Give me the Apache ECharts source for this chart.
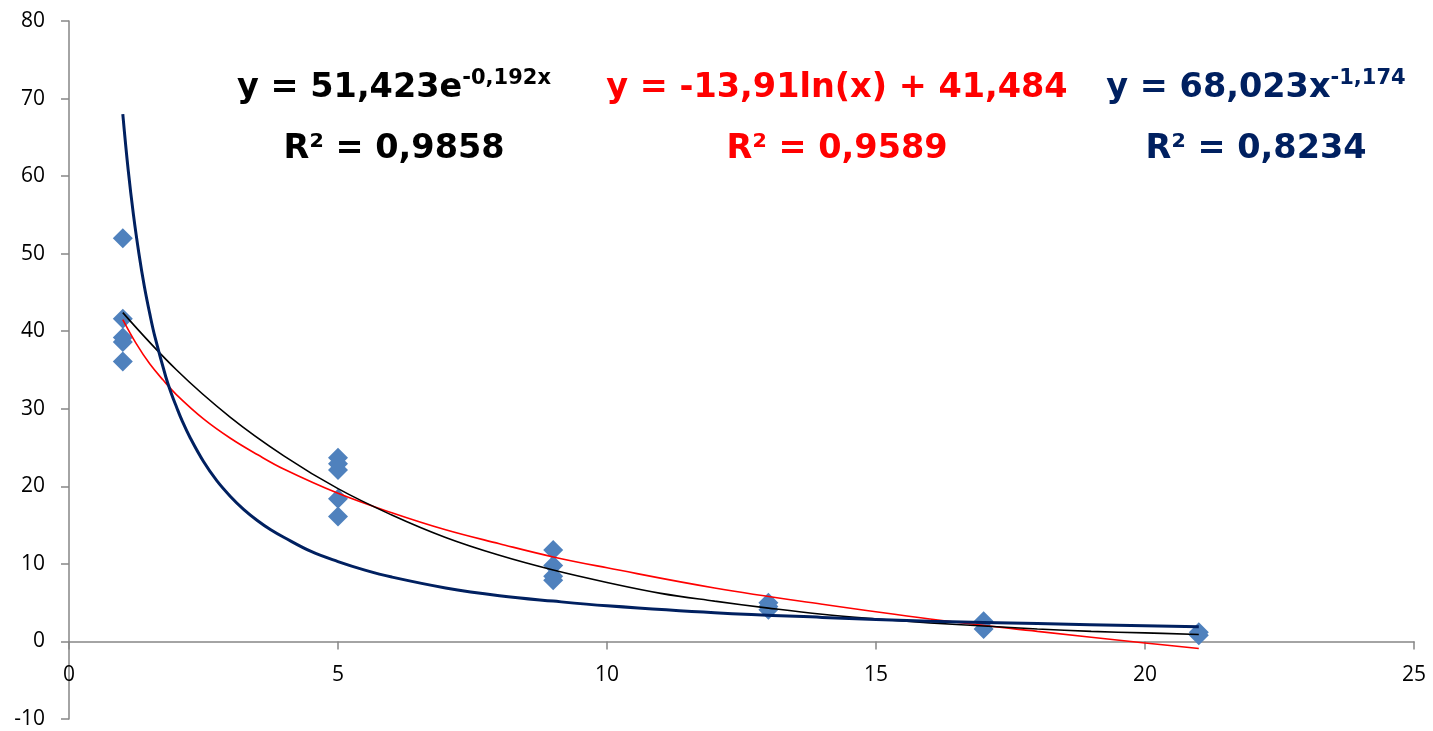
<!DOCTYPE html>
<html>
<head>
<meta charset="utf-8">
<script src="https://cdn.jsdelivr.net/npm/echarts@6/dist/echarts.min.js"></script>
<style>
html,body{margin:0;padding:0;background:#fff;}
#chart{width:1433px;height:731px;}
</style>
</head>
<body>
<div id="chart"></div>
<script>
// Observed points
const pointsX = [1, 1, 1, 1, 1, 5, 5, 5, 5, 5, 9, 9, 9, 9, 13, 13, 13, 17, 17, 21, 21];
const pointsY = [52.0, 41.6, 39.2, 38.6, 36.1, 23.7, 22.9, 22.1, 18.4, 16.1, 11.8, 9.8, 8.4, 7.9, 5.0, 4.5, 4.1, 2.6, 1.6, 1.2, 0.8];

// Trend lines
const expX = [1, 2, 3, 4, 5, 6, 7, 8, 9, 10, 11, 12, 13, 14, 15, 16, 17, 18, 19, 20, 21];
const expY = [42.4, 35.0, 28.9, 23.9, 19.7, 16.3, 13.4, 11.1, 9.2, 7.6, 6.2, 5.2, 4.3, 3.5, 2.9, 2.4, 2.0, 1.6, 1.3, 1.1, 0.9];
const logX = [1, 1.25, 1.5, 1.75, 2, 2.5, 3, 3.5, 4, 5, 6, 7, 8, 9, 10, 12, 14, 16, 18, 20, 21];
const logY = [41.5, 38.4, 35.8, 33.7, 31.8, 28.7, 26.2, 24.1, 22.2, 19.1, 16.6, 14.4, 12.6, 10.9, 9.5, 6.9, 4.8, 2.9, 1.3, -0.2, -0.9];
const powX = [1, 1.1, 1.2, 1.3, 1.4, 1.5, 1.6, 1.8, 1.9, 2, 2.1, 2.25, 2.5, 2.75, 3, 3.25, 3.5, 3.75, 4, 4.5, 5, 5.5, 6, 7, 8, 9, 10, 12, 14, 16, 18, 21];
const powY = [68.0, 60.8, 54.9, 50.0, 45.8, 42.3, 39.2, 34.1, 32.0, 30.2, 28.5, 26.3, 23.2, 20.7, 18.7, 17.0, 15.6, 14.4, 13.4, 11.6, 10.3, 9.2, 8.3, 6.9, 5.9, 5.2, 4.6, 3.7, 3.1, 2.6, 2.3, 1.9];

// Equation labels
const expEq = ['y = 51,423e', '-0,192x', 'R² = 0,9858'];
const logEq = ['y = -13,91ln(x) + 41,484', 'R² = 0,9589'];
const powEq = ['y = 68,023x', '-1,174', 'R² = 0,8234'];

const zip = (xs, ys) => xs.map((x, i) => [x, ys[i]]);

const chart = echarts.init(document.getElementById('chart'), null, {renderer: 'canvas'});

const axisColor = '#868686';
const labelFont = '"Open Sans", sans-serif';
const eqFont = '"DejaVu Sans", sans-serif';

const yMin = -10, yMax = 80;
const gridTop = 21, gridBottom = 12, chartH = 731;
// move the x axis up to the y = 0 line
const plotH = chartH - gridTop - gridBottom;
const xAxisOffset = -plotH * (0 - yMin) / (yMax - yMin);

function eqText(x, y, main, sup, color) {
  return {
    type: 'text', x: x, y: y, z: 100,
    style: {
      text: '{m|' + main + '}' + (sup ? '{s|' + sup + '}' : ''),
      align: 'center', verticalAlign: 'middle',
      fill: color,
      rich: {
        m: {fontFamily: eqFont, fontWeight: 'bold', fontSize: 33.5, fill: color, color: color, lineHeight: 40},
        s: {fontFamily: eqFont, fontWeight: 'bold', fontSize: 21, fill: color, color: color, verticalAlign: 'top', lineHeight: 20}
      }
    }
  };
}

const option = {
  backgroundColor: '#fff',
  animation: false,
  grid: {left: 69, right: 19, top: gridTop, bottom: gridBottom, containLabel: false, outerBoundsMode: 'none'},
  xAxis: {
    type: 'value', min: 0, max: 25, interval: 5,
    position: 'bottom', offset: xAxisOffset,
    axisLine: {show: true, onZero: false, lineStyle: {color: axisColor, width: 1.5}},
    axisTick: {show: true, inside: false, length: 8, lineStyle: {color: axisColor, width: 1.5}},
    splitLine: {show: false},
    axisLabel: {show: true, color: '#000', fontFamily: labelFont, fontSize: 21, margin: 23}
  },
  yAxis: {
    type: 'value', min: yMin, max: yMax, interval: 10,
    axisLine: {show: true, onZero: false, lineStyle: {color: axisColor, width: 1.5}},
    axisTick: {show: true, inside: false, length: 8, lineStyle: {color: axisColor, width: 1.5}},
    splitLine: {show: false},
    axisLabel: {color: '#000', fontFamily: labelFont, fontSize: 21, margin: 24}
  },
  series: [
    {
      type: 'scatter', symbol: 'diamond', symbolSize: 20, z: 2,
      itemStyle: {color: '#4F81BD', opacity: 1},
      data: zip(pointsX, pointsY)
    },
    {
      type: 'line', showSymbol: false, smooth: 0.4, z: 3,
      lineStyle: {color: '#FF0000', width: 1.6},
      data: zip(logX, logY)
    },
    {
      type: 'line', showSymbol: false, smooth: 0.4, z: 4,
      lineStyle: {color: '#000000', width: 1.6},
      data: zip(expX, expY)
    },
    {
      type: 'line', showSymbol: false, smooth: 0.4, z: 5,
      lineStyle: {color: '#002060', width: 3},
      data: zip(powX, powY)
    }
  ],
  graphic: [
    eqText(394, 88, expEq[0], expEq[1], '#000000'),
    eqText(394, 149, expEq[2], null, '#000000'),
    eqText(837, 88, logEq[0], null, '#FF0000'),
    eqText(837, 149, logEq[1], null, '#FF0000'),
    eqText(1256, 88, powEq[0], powEq[1], '#002060'),
    eqText(1256, 149, powEq[2], null, '#002060')
  ]
};

chart.setOption(option);
</script>
</body>
</html>
